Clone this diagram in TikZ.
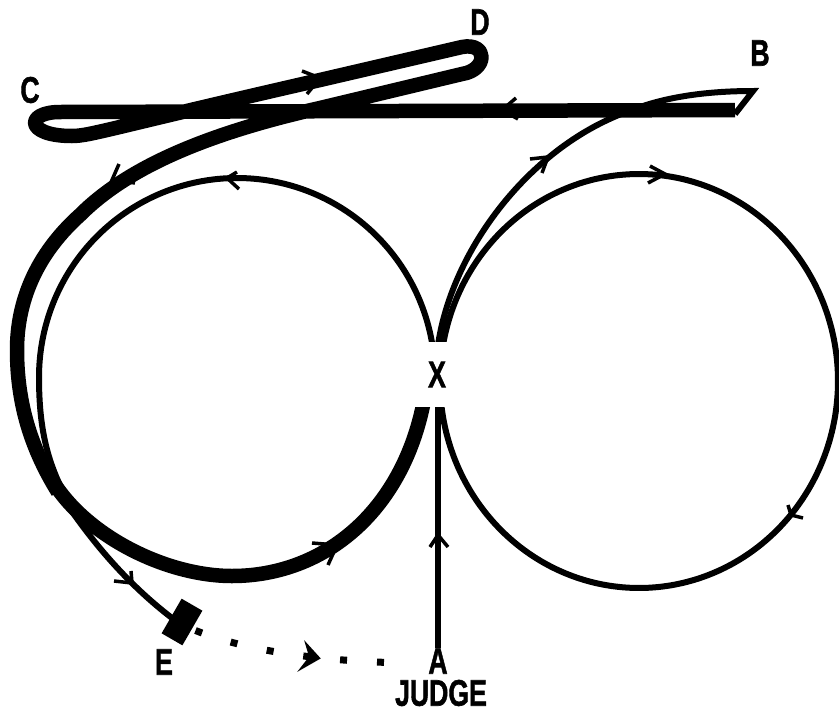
\documentclass[tikz,border=0pt]{standalone}
\usepackage{fontspec}
\setmainfont{Liberation Sans}
\newfontfamily\lblfont[BoldFont={Liberation Sans Bold},BoldFeatures={FakeBold=1.6}]{Liberation Sans}
\newcommand{\lbltext}[1]{\scalebox{.72}[1]{\lblfont\fontsize{37}{37}\selectfont\bfseries #1}}
\tikzset{
 thinpath/.style={line width=6pt,black},
 thickpath/.style={line width=14.5pt,black},
 chev/.style={line width=3.5pt,black,miter limit=10},
 lbl/.style={inner sep=0pt},
 dots/.style={line width=7pt,black,dash pattern=on 7pt off 30pt},
 gap/.style={fill=white,inner sep=0pt,minimum width=70pt,minimum height=65pt}
}
\begin{document}
\begin{tikzpicture}[x=1pt,y=-1pt]
\useasboundingbox (0,0) rectangle (839,710);
% named points
\coordinate (ptA) at (438,648);
\coordinate (ptB) at (753,91);
\coordinate (ptXtop) at (438,345);
\coordinate (ptEend) at (172,618);
\coordinate (dotS) at (195.5,630.5);
\coordinate (dotT) at (388,662.5);
% right circle
\draw[thinpath] plot[domain=-80:445,samples=150,smooth] ({639+199*cos(\x+180)},{381-207*sin(\x+180)});
% left circle, top part
\draw[thinpath] plot[domain=5:180,samples=80,smooth] ({237+198*cos(\x)},{377-199*sin(\x)})
  .. controls (39,425) and (46,460) .. (66,497);
% thick lower arc
\draw[thickpath] (52,480) .. controls (85,535) and (165,576) .. (232,576)
  .. controls (325,576) and (405,510) .. (425,395);
% outward thin branch from X to B, then back
\draw[thinpath,line join=miter] (ptXtop) .. controls (452,250) and (530,145) .. (632,110)
  .. controls (670,95) and (715,91) .. (ptB) -- (735,114);
% thick: horizontal, loop C, up to D, loop, sweep
\draw[thickpath,line join=round] (735,110) -- (60,112)
  .. controls (25,112) and (25,136) .. (72,136)
  .. controls (90,136) and (110,128) .. (320,80)
  -- (462,47) .. controls (488,42) and (488,70) .. (462,74)
  -- (320,108)
  .. controls (200,135) and (125,170) .. (80,215)
  .. controls (30,260) and (17,310) .. (17,350)
  .. controls (17,405) and (32,450) .. (58,492);
% tail to E
\draw[thinpath] (50,478) .. controls (85,535) and (125,582) .. (ptEend);
% centre vertical
\draw[thinpath] (ptA) -- (438,395);
% dotted
\draw[dots] (dotS) .. controls (250,652) and (320,660) .. (dotT);
% E block
\node[fill=black,minimum width=40pt,minimum height=24pt,inner sep=0pt,rotate=60] (block) at (182,622) {};
% X gap
\node[gap] (X) at (437,374.5) {\lbltext{X}};
% chevrons
\draw[chev] (302,71) -- (320,78) -- (307,94);
\draw[chev] (119,164) -- (112,180) -- (135,183);
\draw[chev] (237,172) -- (227,178) -- (239,189);
\draw[chev] (516,98) -- (502,110) -- (518,119);
\draw[chev] (530,159) -- (548,157) -- (542,173);
\draw[chev] (650,166) -- (665,174) -- (648,183);
\draw[chev] (788,505) -- (791,515) -- (803,518);
\draw[chev] (312,543) -- (337,545) -- (328,565);
\draw[chev] (430,547) -- (438,535) -- (448,547);
\draw[chev] (131,571) -- (132,583) -- (114,581);
\draw[chev,fill=black] (308,647) -- (318,658) -- (304,666) -- (311,657) -- cycle;
% labels
\node[lbl] (B) at (760,53) {\lbltext{B}};
\node[lbl] (C) at (30,90) {\lbltext{C}};
\node[lbl] (D) at (480,22) {\lbltext{D}};
\node[lbl] (E) at (164,662) {\lbltext{E}};
\node[lbl] (A) at (438,661) {\lbltext{A}};
\node[lbl] (J) at (441,693) {\lbltext{JUDGE}};
\end{tikzpicture}
\end{document}
